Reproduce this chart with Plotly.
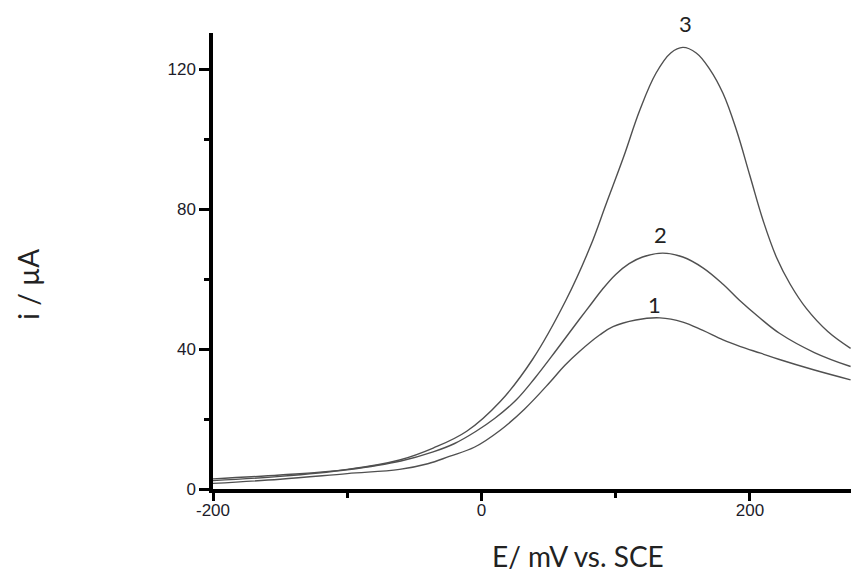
import plotly.graph_objects as go

# Voltammograms: potential (mV vs. SCE) against current (µA)
e_curve1 = [-200, -150, -100, -61, -40, -24, -5, 14, 32, 51, 62, 73, 88, 98, 115, 133,
            150, 165, 180, 193, 208, 222, 248, 275]
i_curve1 = [1.6, 2.8, 4.4, 5.6, 7.2, 9.3, 12.0, 16.8, 22.8, 30.5, 35.3, 39.3, 44.0, 46.4, 48.3, 48.9,
            47.7, 45.3, 42.6, 40.7, 38.8, 37.0, 34.0, 31.2]

e_curve2 = [-200, -150, -100, -60, -36, -20, -4, 10, 26, 40, 56, 73, 81, 90, 100, 110, 120, 135,
            150, 165, 180, 192, 207, 222, 248, 275]
i_curve2 = [2.4, 3.6, 5.5, 8.0, 10.6, 13.0, 16.5, 20.2, 25.5, 31.8, 39.8, 48.5, 52.5, 57.0, 61.3, 64.4, 66.3, 67.4,
            66.3, 63.2, 58.5, 54.0, 49.0, 44.5, 39.0, 35.0]

e_curve3 = [-200, -150, -100, -61, -36, -11, 14, 38, 63, 81, 93, 106, 118, 130, 141,
            150, 160, 170, 180, 190, 200, 210, 220, 230, 242, 258, 275]
i_curve3 = [2.9, 4.0, 5.6, 8.3, 11.7, 16.5, 25.0, 37.0, 54.0, 69.2, 81.6, 95.0, 108.3, 118.8, 124.6,
            126.2, 124.6, 120.0, 113.0, 102.5, 89.5, 76.5, 66.0, 58.5, 51.6, 45.0, 40.2]

curve_labels = ["1", "2", "3"]
label_e = [129, 133.3, 151.9]
label_i = [52.7, 72.7, 133.1]

x_range = [-200, 275.3]
y_range = [0, 130.3]

x_tickvals = [-200, 0, 200]
x_ticktext = ["-200", "0", "200"]
y_tickvals = [0, 40, 80, 120]
y_ticktext = ["0", "40", "80", "120"]

line_style = dict(color="#505050", width=1.4, shape="spline", smoothing=1.1)

fig = go.Figure()
for e, i in [(e_curve1, i_curve1), (e_curve2, i_curve2), (e_curve3, i_curve3)]:
    fig.add_trace(go.Scatter(x=e, y=i, mode="lines", line=line_style,
                             showlegend=False, hoverinfo="skip"))

# curve numbers; "3" sits above the top of the axis, so place them in paper units vertically
for txt, xe, yi in zip(curve_labels, label_e, label_i):
    fig.add_annotation(x=xe, y=yi / y_range[1], text=txt, showarrow=False,
                       xref="x", yref="paper",
                       font=dict(family="Lato", size=22, color="#222222"),
                       xanchor="center", yanchor="middle")

tick_font = dict(family="Liberation Sans, Arial", size=17, color="#1c1c2a")
title_font = dict(family="Lato", size=28, color="#222222")

fig.update_layout(
    width=851, height=571,
    margin=dict(l=213, r=0, t=33, b=82),
    paper_bgcolor="white", plot_bgcolor="white",
    xaxis=dict(range=x_range, showgrid=False, zeroline=False,
               showline=True, linecolor="black", linewidth=3.5,
               ticks="outside", ticklen=8, tickwidth=3, tickcolor="black",
               tickmode="array", tickvals=x_tickvals, ticktext=x_ticktext,
               tickfont=tick_font, ticklabelstandoff=-5,
               minor=dict(tickmode="array", tickvals=[-100, 100], ticks="outside",
                          ticklen=5, tickwidth=3, tickcolor="black")),
    yaxis=dict(range=y_range, showgrid=False, zeroline=False,
               showline=True, linecolor="black", linewidth=3.5,
               ticks="outside", ticklen=10, tickwidth=3, tickcolor="black",
               tickmode="array", tickvals=y_tickvals, ticktext=y_ticktext,
               tickfont=tick_font,
               minor=dict(tickmode="array", tickvals=[20, 60, 100], ticks="outside",
                          ticklen=5, tickwidth=3, tickcolor="black")),
)

fig.add_annotation(text="E/ mV vs. SCE", xref="paper", yref="paper",
                   x=(490 - 213) / 638, y=-0.146, xanchor="left", yanchor="middle",
                   height=30, valign="middle",
                   showarrow=False, font=title_font)
fig.add_annotation(text="i / µA", xref="paper", yref="paper",
                   x=(28 - 213) / 638, y=(489.3 - 285) / 456, xanchor="center", yanchor="middle",
                   textangle=-90, showarrow=False, font=title_font)

fig.write_html("out.html")
